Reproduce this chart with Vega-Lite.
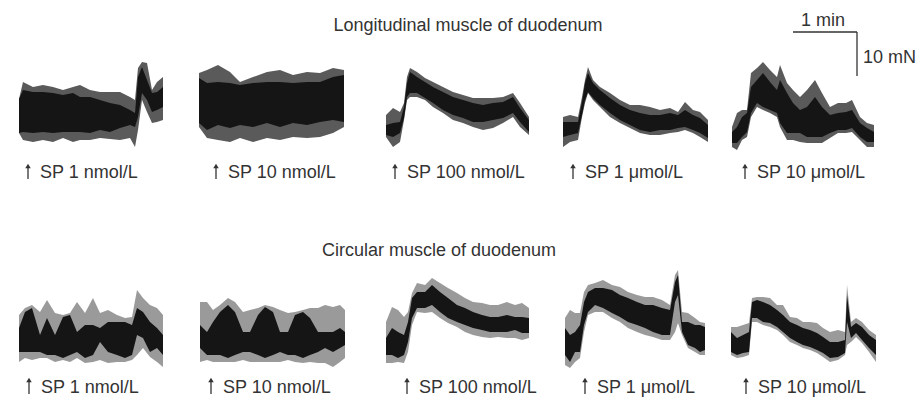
{
  "$schema": "https://vega.github.io/schema/vega-lite/v6.json",
  "width": 916,
  "height": 398,
  "autosize": {"type": "none"},
  "padding": 0,
  "background": "white",
  "config": {"view": {"stroke": null}},
  "datasets": {
    "traces": [
      {"tr":"L1","m":"L","t":19,"top":99,"bot":133,"ctop":99,"cbot":133},
      {"tr":"L1","m":"L","t":23,"top":82,"bot":140,"ctop":90,"cbot":132},
      {"tr":"L1","m":"L","t":33,"top":87,"bot":142,"ctop":92,"cbot":133},
      {"tr":"L1","m":"L","t":43,"top":85,"bot":140,"ctop":92,"cbot":132},
      {"tr":"L1","m":"L","t":53,"top":87,"bot":142,"ctop":93,"cbot":133},
      {"tr":"L1","m":"L","t":63,"top":90,"bot":138,"ctop":95,"cbot":132},
      {"tr":"L1","m":"L","t":73,"top":87,"bot":142,"ctop":93,"cbot":132},
      {"tr":"L1","m":"L","t":80,"top":85,"bot":140,"ctop":97,"cbot":132},
      {"tr":"L1","m":"L","t":90,"top":90,"bot":140,"ctop":97,"cbot":133},
      {"tr":"L1","m":"L","t":100,"top":92,"bot":138,"ctop":100,"cbot":130},
      {"tr":"L1","m":"L","t":110,"top":92,"bot":139,"ctop":103,"cbot":132},
      {"tr":"L1","m":"L","t":120,"top":92,"bot":140,"ctop":105,"cbot":128},
      {"tr":"L1","m":"L","t":130,"top":97,"bot":138,"ctop":110,"cbot":125},
      {"tr":"L1","m":"L","t":135,"top":100,"bot":147,"ctop":113,"cbot":127},
      {"tr":"L1","m":"L","t":138,"top":68,"bot":130,"ctop":77,"cbot":117},
      {"tr":"L1","m":"L","t":142,"top":62,"bot":100,"ctop":67,"cbot":93},
      {"tr":"L1","m":"L","t":147,"top":63,"bot":112,"ctop":80,"cbot":100},
      {"tr":"L1","m":"L","t":152,"top":90,"bot":123,"ctop":93,"cbot":112},
      {"tr":"L1","m":"L","t":157,"top":82,"bot":122,"ctop":92,"cbot":110},
      {"tr":"L1","m":"L","t":163,"top":77,"bot":120,"ctop":87,"cbot":107},

      {"tr":"L2","m":"L","t":199,"top":73,"bot":127,"ctop":78,"cbot":123},
      {"tr":"L2","m":"L","t":207,"top":70,"bot":138,"ctop":83,"cbot":130},
      {"tr":"L2","m":"L","t":218,"top":65,"bot":140,"ctop":82,"cbot":125},
      {"tr":"L2","m":"L","t":230,"top":72,"bot":142,"ctop":83,"cbot":128},
      {"tr":"L2","m":"L","t":240,"top":82,"bot":138,"ctop":85,"cbot":125},
      {"tr":"L2","m":"L","t":253,"top":77,"bot":142,"ctop":83,"cbot":127},
      {"tr":"L2","m":"L","t":267,"top":72,"bot":138,"ctop":82,"cbot":123},
      {"tr":"L2","m":"L","t":280,"top":70,"bot":140,"ctop":82,"cbot":127},
      {"tr":"L2","m":"L","t":293,"top":75,"bot":137,"ctop":83,"cbot":123},
      {"tr":"L2","m":"L","t":307,"top":72,"bot":138,"ctop":82,"cbot":125},
      {"tr":"L2","m":"L","t":320,"top":73,"bot":137,"ctop":82,"cbot":122},
      {"tr":"L2","m":"L","t":333,"top":68,"bot":133,"ctop":77,"cbot":120},
      {"tr":"L2","m":"L","t":344,"top":70,"bot":127,"ctop":75,"cbot":122},

      {"tr":"L3","m":"L","t":386,"top":115,"bot":137,"ctop":125,"cbot":135},
      {"tr":"L3","m":"L","t":393,"top":108,"bot":147,"ctop":123,"cbot":137},
      {"tr":"L3","m":"L","t":400,"top":112,"bot":142,"ctop":122,"cbot":133},
      {"tr":"L3","m":"L","t":404,"top":103,"bot":120,"ctop":107,"cbot":118},
      {"tr":"L3","m":"L","t":407,"top":77,"bot":100,"ctop":83,"cbot":97},
      {"tr":"L3","m":"L","t":410,"top":68,"bot":97,"ctop":72,"cbot":93},
      {"tr":"L3","m":"L","t":417,"top":72,"bot":97,"ctop":77,"cbot":93},
      {"tr":"L3","m":"L","t":425,"top":78,"bot":100,"ctop":82,"cbot":98},
      {"tr":"L3","m":"L","t":433,"top":82,"bot":107,"ctop":87,"cbot":103},
      {"tr":"L3","m":"L","t":443,"top":87,"bot":113,"ctop":92,"cbot":110},
      {"tr":"L3","m":"L","t":453,"top":92,"bot":120,"ctop":97,"cbot":115},
      {"tr":"L3","m":"L","t":463,"top":95,"bot":123,"ctop":100,"cbot":118},
      {"tr":"L3","m":"L","t":473,"top":98,"bot":127,"ctop":103,"cbot":122},
      {"tr":"L3","m":"L","t":483,"top":98,"bot":130,"ctop":105,"cbot":122},
      {"tr":"L3","m":"L","t":493,"top":98,"bot":128,"ctop":103,"cbot":120},
      {"tr":"L3","m":"L","t":503,"top":97,"bot":123,"ctop":102,"cbot":118},
      {"tr":"L3","m":"L","t":513,"top":93,"bot":117,"ctop":97,"cbot":113},
      {"tr":"L3","m":"L","t":520,"top":103,"bot":127,"ctop":108,"cbot":122},
      {"tr":"L3","m":"L","t":529,"top":117,"bot":135,"ctop":120,"cbot":132},

      {"tr":"L4","m":"L","t":563,"top":117,"bot":147,"ctop":122,"cbot":137},
      {"tr":"L4","m":"L","t":570,"top":115,"bot":142,"ctop":122,"cbot":135},
      {"tr":"L4","m":"L","t":578,"top":117,"bot":140,"ctop":122,"cbot":133},
      {"tr":"L4","m":"L","t":582,"top":97,"bot":117,"ctop":102,"cbot":115},
      {"tr":"L4","m":"L","t":585,"top":80,"bot":103,"ctop":83,"cbot":100},
      {"tr":"L4","m":"L","t":588,"top":67,"bot":93,"ctop":73,"cbot":92},
      {"tr":"L4","m":"L","t":593,"top":80,"bot":100,"ctop":83,"cbot":98},
      {"tr":"L4","m":"L","t":600,"top":87,"bot":107,"ctop":90,"cbot":105},
      {"tr":"L4","m":"L","t":610,"top":93,"bot":117,"ctop":98,"cbot":113},
      {"tr":"L4","m":"L","t":620,"top":100,"bot":123,"ctop":105,"cbot":120},
      {"tr":"L4","m":"L","t":630,"top":105,"bot":128,"ctop":110,"cbot":125},
      {"tr":"L4","m":"L","t":640,"top":105,"bot":133,"ctop":113,"cbot":130},
      {"tr":"L4","m":"L","t":650,"top":107,"bot":135,"ctop":115,"cbot":132},
      {"tr":"L4","m":"L","t":660,"top":110,"bot":135,"ctop":115,"cbot":130},
      {"tr":"L4","m":"L","t":670,"top":108,"bot":133,"ctop":113,"cbot":130},
      {"tr":"L4","m":"L","t":678,"top":112,"bot":132,"ctop":115,"cbot":128},
      {"tr":"L4","m":"L","t":685,"top":102,"bot":130,"ctop":110,"cbot":127},
      {"tr":"L4","m":"L","t":693,"top":110,"bot":133,"ctop":115,"cbot":130},
      {"tr":"L4","m":"L","t":700,"top":112,"bot":137,"ctop":118,"cbot":133},
      {"tr":"L4","m":"L","t":708,"top":120,"bot":142,"ctop":125,"cbot":138},

      {"tr":"L5","m":"L","t":732,"top":127,"bot":147,"ctop":132,"cbot":143},
      {"tr":"L5","m":"L","t":737,"top":113,"bot":150,"ctop":127,"cbot":143},
      {"tr":"L5","m":"L","t":742,"top":110,"bot":140,"ctop":117,"cbot":137},
      {"tr":"L5","m":"L","t":747,"top":110,"bot":137,"ctop":113,"cbot":132},
      {"tr":"L5","m":"L","t":751,"top":73,"bot":117,"ctop":87,"cbot":113},
      {"tr":"L5","m":"L","t":757,"top":68,"bot":107,"ctop":80,"cbot":103},
      {"tr":"L5","m":"L","t":763,"top":62,"bot":110,"ctop":73,"cbot":107},
      {"tr":"L5","m":"L","t":770,"top":70,"bot":113,"ctop":82,"cbot":110},
      {"tr":"L5","m":"L","t":777,"top":77,"bot":117,"ctop":90,"cbot":113},
      {"tr":"L5","m":"L","t":780,"top":65,"bot":127,"ctop":80,"cbot":123},
      {"tr":"L5","m":"L","t":787,"top":83,"bot":140,"ctop":93,"cbot":133},
      {"tr":"L5","m":"L","t":793,"top":90,"bot":140,"ctop":103,"cbot":133},
      {"tr":"L5","m":"L","t":800,"top":97,"bot":142,"ctop":110,"cbot":133},
      {"tr":"L5","m":"L","t":807,"top":90,"bot":143,"ctop":107,"cbot":137},
      {"tr":"L5","m":"L","t":815,"top":80,"bot":143,"ctop":97,"cbot":137},
      {"tr":"L5","m":"L","t":822,"top":93,"bot":143,"ctop":107,"cbot":137},
      {"tr":"L5","m":"L","t":830,"top":107,"bot":138,"ctop":115,"cbot":133},
      {"tr":"L5","m":"L","t":838,"top":103,"bot":133,"ctop":113,"cbot":130},
      {"tr":"L5","m":"L","t":846,"top":103,"bot":133,"ctop":112,"cbot":130},
      {"tr":"L5","m":"L","t":852,"top":100,"bot":132,"ctop":110,"cbot":128},
      {"tr":"L5","m":"L","t":860,"top":117,"bot":140,"ctop":123,"cbot":137},
      {"tr":"L5","m":"L","t":867,"top":123,"bot":147,"ctop":128,"cbot":142},
      {"tr":"L5","m":"L","t":874,"top":125,"bot":147,"ctop":132,"cbot":142},

      {"tr":"C1","m":"C","t":19,"top":315,"bot":362,"ctop":328,"cbot":352},
      {"tr":"C1","m":"C","t":25,"top":308,"bot":358,"ctop":312,"cbot":352},
      {"tr":"C1","m":"C","t":32,"top":305,"bot":360,"ctop":308,"cbot":352},
      {"tr":"C1","m":"C","t":40,"top":312,"bot":358,"ctop":335,"cbot":352},
      {"tr":"C1","m":"C","t":47,"top":300,"bot":358,"ctop":318,"cbot":355},
      {"tr":"C1","m":"C","t":55,"top":313,"bot":362,"ctop":335,"cbot":355},
      {"tr":"C1","m":"C","t":63,"top":315,"bot":360,"ctop":317,"cbot":358},
      {"tr":"C1","m":"C","t":70,"top":313,"bot":362,"ctop":315,"cbot":355},
      {"tr":"C1","m":"C","t":77,"top":302,"bot":358,"ctop":332,"cbot":352},
      {"tr":"C1","m":"C","t":85,"top":313,"bot":363,"ctop":325,"cbot":358},
      {"tr":"C1","m":"C","t":93,"top":298,"bot":362,"ctop":325,"cbot":355},
      {"tr":"C1","m":"C","t":100,"top":313,"bot":360,"ctop":328,"cbot":342},
      {"tr":"C1","m":"C","t":108,"top":310,"bot":363,"ctop":322,"cbot":352},
      {"tr":"C1","m":"C","t":117,"top":315,"bot":362,"ctop":322,"cbot":355},
      {"tr":"C1","m":"C","t":125,"top":318,"bot":362,"ctop":322,"cbot":358},
      {"tr":"C1","m":"C","t":132,"top":317,"bot":360,"ctop":325,"cbot":355},
      {"tr":"C1","m":"C","t":137,"top":290,"bot":355,"ctop":308,"cbot":335},
      {"tr":"C1","m":"C","t":143,"top":298,"bot":348,"ctop":312,"cbot":338},
      {"tr":"C1","m":"C","t":150,"top":305,"bot":357,"ctop":322,"cbot":352},
      {"tr":"C1","m":"C","t":157,"top":308,"bot":362,"ctop":328,"cbot":348},
      {"tr":"C1","m":"C","t":163,"top":315,"bot":367,"ctop":335,"cbot":355},

      {"tr":"C2","m":"C","t":200,"top":302,"bot":362,"ctop":325,"cbot":348},
      {"tr":"C2","m":"C","t":207,"top":302,"bot":360,"ctop":332,"cbot":355},
      {"tr":"C2","m":"C","t":213,"top":310,"bot":362,"ctop":322,"cbot":355},
      {"tr":"C2","m":"C","t":220,"top":305,"bot":362,"ctop":312,"cbot":355},
      {"tr":"C2","m":"C","t":228,"top":298,"bot":362,"ctop":305,"cbot":358},
      {"tr":"C2","m":"C","t":235,"top":302,"bot":362,"ctop":312,"cbot":355},
      {"tr":"C2","m":"C","t":243,"top":312,"bot":360,"ctop":332,"cbot":352},
      {"tr":"C2","m":"C","t":250,"top":310,"bot":362,"ctop":332,"cbot":352},
      {"tr":"C2","m":"C","t":258,"top":308,"bot":362,"ctop":315,"cbot":355},
      {"tr":"C2","m":"C","t":265,"top":305,"bot":362,"ctop":307,"cbot":358},
      {"tr":"C2","m":"C","t":273,"top":307,"bot":362,"ctop":312,"cbot":355},
      {"tr":"C2","m":"C","t":280,"top":310,"bot":362,"ctop":332,"cbot":352},
      {"tr":"C2","m":"C","t":288,"top":313,"bot":360,"ctop":332,"cbot":355},
      {"tr":"C2","m":"C","t":295,"top":312,"bot":362,"ctop":315,"cbot":355},
      {"tr":"C2","m":"C","t":303,"top":310,"bot":363,"ctop":312,"cbot":358},
      {"tr":"C2","m":"C","t":310,"top":308,"bot":362,"ctop":318,"cbot":355},
      {"tr":"C2","m":"C","t":318,"top":308,"bot":363,"ctop":332,"cbot":352},
      {"tr":"C2","m":"C","t":325,"top":305,"bot":363,"ctop":332,"cbot":348},
      {"tr":"C2","m":"C","t":333,"top":307,"bot":367,"ctop":332,"cbot":352},
      {"tr":"C2","m":"C","t":340,"top":305,"bot":362,"ctop":328,"cbot":348},
      {"tr":"C2","m":"C","t":345,"top":310,"bot":358,"ctop":332,"cbot":345},

      {"tr":"C3","m":"C","t":386,"top":322,"bot":363,"ctop":338,"cbot":355},
      {"tr":"C3","m":"C","t":392,"top":307,"bot":363,"ctop":328,"cbot":355},
      {"tr":"C3","m":"C","t":398,"top":310,"bot":362,"ctop":332,"cbot":358},
      {"tr":"C3","m":"C","t":404,"top":317,"bot":363,"ctop":335,"cbot":355},
      {"tr":"C3","m":"C","t":408,"top":312,"bot":352,"ctop":322,"cbot":342},
      {"tr":"C3","m":"C","t":412,"top":293,"bot":325,"ctop":298,"cbot":318},
      {"tr":"C3","m":"C","t":417,"top":283,"bot":312,"ctop":292,"cbot":308},
      {"tr":"C3","m":"C","t":425,"top":285,"bot":313,"ctop":292,"cbot":308},
      {"tr":"C3","m":"C","t":432,"top":278,"bot":312,"ctop":285,"cbot":305},
      {"tr":"C3","m":"C","t":440,"top":283,"bot":318,"ctop":292,"cbot":312},
      {"tr":"C3","m":"C","t":448,"top":288,"bot":323,"ctop":298,"cbot":318},
      {"tr":"C3","m":"C","t":457,"top":293,"bot":327,"ctop":305,"cbot":322},
      {"tr":"C3","m":"C","t":465,"top":298,"bot":332,"ctop":308,"cbot":325},
      {"tr":"C3","m":"C","t":473,"top":302,"bot":335,"ctop":312,"cbot":328},
      {"tr":"C3","m":"C","t":482,"top":303,"bot":337,"ctop":315,"cbot":330},
      {"tr":"C3","m":"C","t":490,"top":305,"bot":338,"ctop":317,"cbot":332},
      {"tr":"C3","m":"C","t":498,"top":305,"bot":337,"ctop":317,"cbot":332},
      {"tr":"C3","m":"C","t":507,"top":302,"bot":338,"ctop":315,"cbot":332},
      {"tr":"C3","m":"C","t":515,"top":305,"bot":338,"ctop":317,"cbot":330},
      {"tr":"C3","m":"C","t":522,"top":303,"bot":340,"ctop":317,"cbot":333},
      {"tr":"C3","m":"C","t":529,"top":308,"bot":338,"ctop":318,"cbot":333},

      {"tr":"C4","m":"C","t":565,"top":318,"bot":365,"ctop":328,"cbot":355},
      {"tr":"C4","m":"C","t":570,"top":310,"bot":368,"ctop":335,"cbot":362},
      {"tr":"C4","m":"C","t":575,"top":313,"bot":362,"ctop":332,"cbot":352},
      {"tr":"C4","m":"C","t":580,"top":313,"bot":358,"ctop":325,"cbot":352},
      {"tr":"C4","m":"C","t":584,"top":292,"bot":332,"ctop":302,"cbot":325},
      {"tr":"C4","m":"C","t":588,"top":285,"bot":315,"ctop":292,"cbot":312},
      {"tr":"C4","m":"C","t":595,"top":283,"bot":312,"ctop":288,"cbot":305},
      {"tr":"C4","m":"C","t":603,"top":280,"bot":312,"ctop":288,"cbot":308},
      {"tr":"C4","m":"C","t":612,"top":285,"bot":318,"ctop":290,"cbot":313},
      {"tr":"C4","m":"C","t":620,"top":287,"bot":322,"ctop":295,"cbot":317},
      {"tr":"C4","m":"C","t":628,"top":292,"bot":328,"ctop":298,"cbot":322},
      {"tr":"C4","m":"C","t":637,"top":295,"bot":332,"ctop":302,"cbot":325},
      {"tr":"C4","m":"C","t":645,"top":297,"bot":335,"ctop":305,"cbot":328},
      {"tr":"C4","m":"C","t":653,"top":297,"bot":337,"ctop":305,"cbot":332},
      {"tr":"C4","m":"C","t":662,"top":300,"bot":340,"ctop":308,"cbot":335},
      {"tr":"C4","m":"C","t":670,"top":305,"bot":340,"ctop":310,"cbot":335},
      {"tr":"C4","m":"C","t":675,"top":275,"bot":332,"ctop":282,"cbot":302},
      {"tr":"C4","m":"C","t":678,"top":270,"bot":323,"ctop":275,"cbot":295},
      {"tr":"C4","m":"C","t":682,"top":312,"bot":335,"ctop":322,"cbot":332},
      {"tr":"C4","m":"C","t":688,"top":313,"bot":348,"ctop":322,"cbot":345},
      {"tr":"C4","m":"C","t":695,"top":318,"bot":352,"ctop":325,"cbot":348},
      {"tr":"C4","m":"C","t":700,"top":322,"bot":355,"ctop":325,"cbot":352},
      {"tr":"C4","m":"C","t":705,"top":323,"bot":355,"ctop":327,"cbot":350},

      {"tr":"C5","m":"C","t":731,"top":327,"bot":355,"ctop":332,"cbot":352},
      {"tr":"C5","m":"C","t":737,"top":327,"bot":358,"ctop":338,"cbot":355},
      {"tr":"C5","m":"C","t":743,"top":325,"bot":357,"ctop":335,"cbot":353},
      {"tr":"C5","m":"C","t":749,"top":323,"bot":355,"ctop":332,"cbot":352},
      {"tr":"C5","m":"C","t":752,"top":298,"bot":322,"ctop":302,"cbot":318},
      {"tr":"C5","m":"C","t":757,"top":297,"bot":322,"ctop":300,"cbot":318},
      {"tr":"C5","m":"C","t":763,"top":297,"bot":325,"ctop":302,"cbot":322},
      {"tr":"C5","m":"C","t":770,"top":298,"bot":327,"ctop":305,"cbot":323},
      {"tr":"C5","m":"C","t":777,"top":305,"bot":330,"ctop":310,"cbot":327},
      {"tr":"C5","m":"C","t":783,"top":305,"bot":335,"ctop":315,"cbot":332},
      {"tr":"C5","m":"C","t":790,"top":317,"bot":342,"ctop":322,"cbot":338},
      {"tr":"C5","m":"C","t":797,"top":318,"bot":345,"ctop":325,"cbot":342},
      {"tr":"C5","m":"C","t":803,"top":322,"bot":348,"ctop":328,"cbot":345},
      {"tr":"C5","m":"C","t":810,"top":322,"bot":350,"ctop":330,"cbot":347},
      {"tr":"C5","m":"C","t":817,"top":323,"bot":353,"ctop":333,"cbot":350},
      {"tr":"C5","m":"C","t":823,"top":328,"bot":357,"ctop":337,"cbot":353},
      {"tr":"C5","m":"C","t":830,"top":332,"bot":362,"ctop":342,"cbot":358},
      {"tr":"C5","m":"C","t":838,"top":330,"bot":360,"ctop":342,"cbot":357},
      {"tr":"C5","m":"C","t":845,"top":332,"bot":355,"ctop":340,"cbot":353},
      {"tr":"C5","m":"C","t":847,"top":285,"bot":345,"ctop":295,"cbot":322},
      {"tr":"C5","m":"C","t":851,"top":322,"bot":342,"ctop":327,"cbot":338},
      {"tr":"C5","m":"C","t":856,"top":318,"bot":337,"ctop":323,"cbot":333},
      {"tr":"C5","m":"C","t":862,"top":322,"bot":343,"ctop":327,"cbot":340},
      {"tr":"C5","m":"C","t":869,"top":330,"bot":352,"ctop":335,"cbot":348},
      {"tr":"C5","m":"C","t":876,"top":335,"bot":362,"ctop":340,"cbot":355}
    ],
    "labels": [
      {"m":"L","t":28,"dose":"SP 1 nmol/L"},
      {"m":"L","t":216,"dose":"SP 10 nmol/L"},
      {"m":"L","t":395,"dose":"SP 100 nmol/L"},
      {"m":"L","t":573,"dose":"SP 1 μmol/L"},
      {"m":"L","t":745,"dose":"SP 10 μmol/L"},
      {"m":"C","t":29,"dose":"SP 1 nmol/L"},
      {"m":"C","t":211,"dose":"SP 10 nmol/L"},
      {"m":"C","t":407,"dose":"SP 100 nmol/L"},
      {"m":"C","t":585,"dose":"SP 1 μmol/L"},
      {"m":"C","t":746,"dose":"SP 10 μmol/L"}
    ]
  },
  "layer": [
    {
      "data": {"name": "traces"},
      "mark": {"type": "area", "interpolate": "linear"},
      "encoding": {
        "x": {"field": "t", "type": "quantitative", "scale": {"domain": [0, 916], "nice": false, "zero": false}, "axis": null},
        "y": {"field": "top", "type": "quantitative", "scale": {"domain": [0, 398], "nice": false, "zero": false, "reverse": true}, "axis": null},
        "y2": {"field": "bot"},
        "detail": {"field": "tr"},
        "color": {"field": "m", "type": "nominal", "scale": {"domain": ["L", "C"], "range": ["#5a5a5a", "#9a9a9a"]}, "legend": null}
      }
    },
    {
      "data": {"name": "traces"},
      "mark": {"type": "area", "interpolate": "linear", "color": "#151515"},
      "encoding": {
        "x": {"field": "t", "type": "quantitative"},
        "y": {"field": "ctop", "type": "quantitative"},
        "y2": {"field": "cbot"},
        "detail": {"field": "tr"}
      }
    },
    {
      "data": {"values": [{}]},
      "mark": {"type": "text", "font": "Liberation Sans", "fontSize": 18, "color": "#333333", "align": "center", "baseline": "alphabetic"},
      "encoding": {"x": {"datum": 468}, "y": {"datum": 31}, "text": {"value": "Longitudinal muscle of duodenum"}}
    },
    {
      "data": {"values": [{}]},
      "mark": {"type": "text", "font": "Liberation Sans", "fontSize": 18, "color": "#333333", "align": "center", "baseline": "alphabetic"},
      "encoding": {"x": {"datum": 439}, "y": {"datum": 256}, "text": {"value": "Circular muscle of duodenum"}}
    },
    {
      "data": {"values": [{}]},
      "mark": {"type": "text", "font": "Liberation Sans", "fontSize": 18, "color": "#333333", "align": "center", "baseline": "alphabetic"},
      "encoding": {"x": {"datum": 823}, "y": {"datum": 26}, "text": {"value": "1 min"}}
    },
    {
      "data": {"values": [{}]},
      "mark": {"type": "text", "font": "Liberation Sans", "fontSize": 18, "color": "#333333", "align": "left", "baseline": "alphabetic"},
      "encoding": {"x": {"datum": 863}, "y": {"datum": 63}, "text": {"value": "10 mN"}}
    },
    {
      "data": {"values": [{}]},
      "mark": {"type": "rule", "color": "#333333", "strokeWidth": 1.3},
      "encoding": {"x": {"datum": 793}, "x2": {"datum": 857}, "y": {"datum": 32}}
    },
    {
      "data": {"values": [{}]},
      "mark": {"type": "rule", "color": "#333333", "strokeWidth": 1.3},
      "encoding": {"x": {"datum": 857}, "y": {"datum": 32}, "y2": {"datum": 76}}
    },
    {
      "data": {"name": "labels"},
      "transform": [{"filter": "datum.m === 'L'"}],
      "layer": [
        {
          "mark": {"type": "text", "font": "Liberation Sans", "fontSize": 18, "color": "#333333", "align": "left", "baseline": "alphabetic", "dx": 12},
          "encoding": {"x": {"field": "t", "type": "quantitative"}, "y": {"datum": 178}, "text": {"field": "dose"}}
        },
        {
          "mark": {"type": "rule", "color": "#333333", "strokeWidth": 1.3},
          "encoding": {"x": {"field": "t", "type": "quantitative"}, "y": {"datum": 167}, "y2": {"datum": 179}}
        },
        {
          "mark": {"type": "point", "shape": "triangle-up", "filled": true, "size": 30, "color": "#333333", "opacity": 1},
          "encoding": {"x": {"field": "t", "type": "quantitative"}, "y": {"datum": 166}}
        }
      ]
    },
    {
      "data": {"name": "labels"},
      "transform": [{"filter": "datum.m === 'C'"}],
      "layer": [
        {
          "mark": {"type": "text", "font": "Liberation Sans", "fontSize": 18, "color": "#333333", "align": "left", "baseline": "alphabetic", "dx": 12},
          "encoding": {"x": {"field": "t", "type": "quantitative"}, "y": {"datum": 393}, "text": {"field": "dose"}}
        },
        {
          "mark": {"type": "rule", "color": "#333333", "strokeWidth": 1.3},
          "encoding": {"x": {"field": "t", "type": "quantitative"}, "y": {"datum": 381}, "y2": {"datum": 394}}
        },
        {
          "mark": {"type": "point", "shape": "triangle-up", "filled": true, "size": 30, "color": "#333333", "opacity": 1},
          "encoding": {"x": {"field": "t", "type": "quantitative"}, "y": {"datum": 380}}
        }
      ]
    }
  ]
}
